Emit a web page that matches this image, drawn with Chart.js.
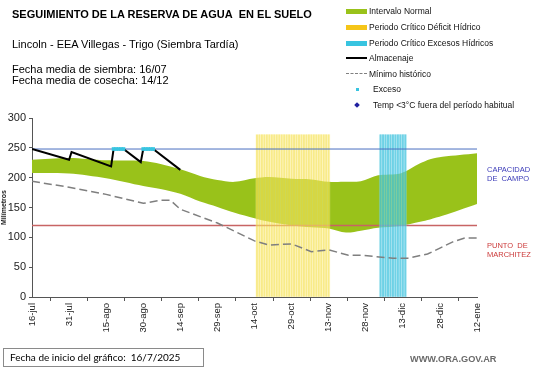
<!DOCTYPE html>
<html>
<head>
<meta charset="utf-8">
<script src="https://cdn.jsdelivr.net/npm/chart.js@4.4.1/dist/chart.umd.min.js"></script>
<style>
  body { margin: 0; background: #fff; font-family: "Liberation Sans", Arial, sans-serif; }
  #wrap { position: relative; width: 541px; height: 368px; overflow: hidden; }
  #grafico { position: absolute; left: 0; top: 0; }
  .txt { position: absolute; white-space: nowrap; color: #000; }
  #titulo { left: 12px; top: 8px; font-weight: bold; font-size: 11px; }
  #sub { left: 12px; top: 38px; font-size: 11px; }
  #fechas { left: 12px; top: 64px; font-size: 11px; line-height: 11px; }
  .ley { position: absolute; left: 346px; height: 10px; font-size: 8.5px; color: #111; }
  .ley span.sw { position: absolute; left: 0; width: 21px; }
  .ley span.t { position: absolute; left: 23px; top: -5px; white-space: nowrap; }
  #pie { position: absolute; left: 3px; top: 348px; width: 199px; height: 17px; border: 1px solid #8a8a8a;
         font-family: Lato, "Liberation Sans", sans-serif; font-size: 10px; line-height: 17px; text-indent: 6px; }
  #web { left: 410px; top: 354px; font-size: 9.2px; font-weight: bold; color: #6a6a6a; }
</style>
</head>
<body>
<div id="wrap">
  <canvas id="grafico" width="541" height="368"></canvas>
  <div class="txt" id="titulo">SEGUIMIENTO DE LA RESERVA DE AGUA&nbsp; EN EL SUELO</div>
  <div class="txt" id="sub">Lincoln - EEA Villegas - Trigo (Siembra Tardía)</div>
  <div class="txt" id="fechas">Fecha media de siembra: 16/07<br>Fecha media de cosecha: 14/12</div>
  <div id="leyenda"></div>
  <div id="pie">Fecha de inicio del gráfico:&nbsp; 16/7/2025</div>
  <div class="txt" id="web">WWW.ORA.GOV.AR</div>
</div>
<script>
// --- Datos ---
const diasTicks = [0, 15, 30, 45, 60, 75, 90, 105, 120, 135, 150, 165, 180];
const etiquetasX = ['16-jul', '31-jul', '15-ago', '30-ago', '14-sep', '29-sep', '14-oct', '29-oct', '13-nov', '28-nov', '13-dic', '28-dic', '12-ene'];

const capacidadCampo = 248;
const puntoMarchitez = 120;

// Intervalo normal (banda verde)
const normalDias = [0, 15, 30, 45, 52, 60, 68, 75, 82, 90, 96, 105, 113, 120, 127, 133, 140, 149, 157, 161, 166, 173, 180];
const normalSup  = [230, 233, 229, 228, 223, 214, 203, 196, 193, 199, 201, 198, 197, 193, 193, 194, 204, 207, 224, 231, 235, 238, 241];
const normalInf  = [208, 207, 199, 186, 181, 173, 160, 151, 141, 132, 126, 120, 117, 115, 108, 111, 116, 119, 126, 130, 136, 146, 156];

// Minimo historico
const minimoDias  = [0, 15, 30, 45, 52, 56, 60, 75, 90, 96, 105, 113, 120, 128, 133, 146, 152, 160, 165, 170, 175, 180];
const minimoValor = [194, 184, 172, 157, 162, 162, 147, 124, 94, 87, 89, 76, 79, 70, 70, 65, 65, 72, 82, 92, 99, 99];

// Almacenaje
const almDias  = [0, 15, 16, 32, 33, 37, 44, 45, 49, 60];
const almValor = [248, 230, 243, 219, 248, 248, 226, 248, 248, 213];

// Exceso
const excesoDias = [33, 34, 35, 36, 37, 45, 46, 47, 48, 49];
const excesoValor = [248, 248, 248, 248, 248, 248, 248, 248, 248, 248];

// Periodos criticos
const deficitDias = [91, 92, 93, 94, 95, 96, 97, 98, 99, 100, 101, 102, 103, 104, 105, 106, 107, 108, 109, 110, 111, 112, 113, 114, 115, 116, 117, 118, 119, 120];
const excesosDias = [141, 142, 143, 144, 145, 146, 147, 148, 149, 150, 151];
const alturaPeriodo = 272;

const pares = (xs, ys) => xs.map((x, i) => ({ x: x, y: ys[i] }));
const constante = (xs, v) => xs.map(x => ({ x: x, y: v }));

// --- Leyenda (HTML) ---
const leyenda = [
  { texto: 'Intervalo Normal', tipo: 'banda', color: '#99c21a', top: 11 },
  { texto: 'Periodo Crítico Déficit Hídrico', tipo: 'banda', color: '#f5c518', top: 26.5 },
  { texto: 'Periodo Crítico Excesos Hídricos', tipo: 'banda', color: '#38c4e0', top: 42.5 },
  { texto: 'Almacenaje', tipo: 'linea', color: '#000', top: 58 },
  { texto: 'Mínimo histórico', tipo: 'guion', color: '#808080', top: 73.5 },
  { texto: 'Exceso', tipo: 'punto', color: '#38c4e0', top: 89 },
  { texto: 'Temp <3°C fuera del período habitual', tipo: 'rombo', color: '#2020a0', top: 104.5 }
];
document.getElementById('leyenda').innerHTML = leyenda.map(it => {
  let sw = '';
  if (it.tipo === 'banda') sw = `<span class="sw" style="top:-2px;height:5px;background:${it.color}"></span>`;
  if (it.tipo === 'linea') sw = `<span class="sw" style="top:-1px;height:2px;background:${it.color}"></span>`;
  if (it.tipo === 'guion') sw = `<span class="sw" style="top:-1px;height:0;border-top:1.5px dashed ${it.color}"></span>`;
  if (it.tipo === 'punto') sw = `<span class="sw" style="left:10px;top:-1px;width:3px;height:3px;background:${it.color}"></span>`;
  if (it.tipo === 'rombo') sw = `<span class="sw" style="left:9px;top:-2px;width:4px;height:4px;background:${it.color};transform:rotate(45deg)"></span>`;
  const desplaza = (it.tipo === 'punto' || it.tipo === 'rombo') ? 'left:27px;' : '';
  return `<div class="ley" style="top:${it.top}px">${sw}<span class="t" style="${desplaza}">${it.texto}</span></div>`;
}).join('');

// --- Etiquetas a la derecha de las lineas ---
const etiquetasDerecha = [
  { valor: capacidadCampo, lineas: ['CAPACIDAD', 'DE  CAMPO'], color: '#3a3ab8' },
  { valor: puntoMarchitez, lineas: ['PUNTO  DE', 'MARCHITEZ'], color: '#cc3a3a' }
];
const pluginEtiquetas = {
  id: 'etiquetasDerecha',
  afterDraw(chart) {
    const c = chart.ctx;
    const y = chart.scales.y;
    c.save();
    c.font = '7.5px "Liberation Sans", Arial, sans-serif';
    c.textBaseline = 'middle';
    etiquetasDerecha.forEach(et => {
      const py = y.getPixelForValue(et.valor);
      c.fillStyle = et.color;
      et.lineas.forEach((l, i) => c.fillText(l, chart.chartArea.right + 10, py + 21 + i * 9));
    });
    c.restore();
  }
};

// --- Grafico ---
const ctx = document.getElementById('grafico').getContext('2d');
const grafico = new Chart(ctx, {
  type: 'line',
  data: {
    datasets: [
      { label: 'Exceso', data: pares(excesoDias, excesoValor), showLine: false,
        pointStyle: 'rect', pointRadius: 2.6, pointBackgroundColor: '#38c4e0', pointBorderWidth: 0 },
      { label: 'Almacenaje', data: pares(almDias, almValor), borderColor: '#000', borderWidth: 2, pointRadius: 0 },
      { label: 'Capacidad de campo', data: constante([0, 180], capacidadCampo), borderColor: '#4a6fc0', borderWidth: 1, pointRadius: 0 },
      { label: 'Mínimo histórico', data: pares(minimoDias, minimoValor), borderColor: '#7f7f7f', borderWidth: 1.5,
        borderDash: [8, 4], pointRadius: 0 },
      { type: 'bar', label: 'Déficit', data: constante(deficitDias, alturaPeriodo), grouped: false,
        barThickness: 1.2, backgroundColor: 'rgba(242, 220, 60, 0.55)' },
      { type: 'bar', label: 'Excesos', data: constante(excesosDias, alturaPeriodo), grouped: false,
        barThickness: 1.3, backgroundColor: 'rgba(50, 190, 220, 0.65)' },
      { type: 'bar', label: 'Déficit fondo', data: constante(deficitDias, alturaPeriodo), grouped: false,
        barThickness: 2.6, backgroundColor: 'rgba(255, 242, 170, 0.3)' },
      { type: 'bar', label: 'Excesos fondo', data: constante(excesosDias, alturaPeriodo), grouped: false,
        barThickness: 2.6, backgroundColor: 'rgba(170, 228, 240, 0.35)' },
      { label: 'Punto de marchitez', data: constante([0, 180], puntoMarchitez), borderColor: '#c86464', borderWidth: 1.5, pointRadius: 0 },
      { label: 'Normal sup', data: pares(normalDias, normalSup), borderWidth: 0, pointRadius: 0,
        fill: '+1', backgroundColor: '#99c21a', tension: 0.3 },
      { label: 'Normal inf', data: pares(normalDias, normalInf), borderWidth: 0, pointRadius: 0, tension: 0.3 }
    ]
  },
  options: {
    responsive: false,
    animation: false,
    layout: { padding: { top: 118, right: 64, bottom: 0, left: 0 } },
    plugins: { legend: { display: false }, tooltip: { enabled: false } },
    scales: {
      x: {
        type: 'linear', min: 0, max: 180, offset: false,
        afterFit: s => { s.height = 71; s.paddingLeft = 0; s.paddingRight = 0; },
        ticks: {
          stepSize: 15, autoSkip: false, maxRotation: 90, minRotation: 90, padding: 2,
          color: '#222', font: { family: '"Liberation Sans", Arial', size: 9.5 },
          callback: v => etiquetasX[diasTicks.indexOf(v)]
        },
        grid: { drawOnChartArea: false, tickLength: 4, color: '#555' },
        border: { color: '#555', width: 1 }
      },
      y: {
        min: 0, max: 300,
        afterFit: s => { s.width = 32; s.paddingTop = 0; s.paddingBottom = 0; },
        ticks: { stepSize: 50, padding: 3, color: '#222', font: { family: '"Liberation Sans", Arial', size: 11 } },
        grid: { drawOnChartArea: false, tickLength: 3, color: '#555' },
        border: { color: '#555', width: 1 },
        title: { display: true, text: 'Milímetros', padding: 0, color: '#222',
                 font: { family: '"Liberation Sans", Arial', size: 7, weight: 'bold' } }
      }
    }
  },
  plugins: [pluginEtiquetas]
});
</script>
</body>
</html>
